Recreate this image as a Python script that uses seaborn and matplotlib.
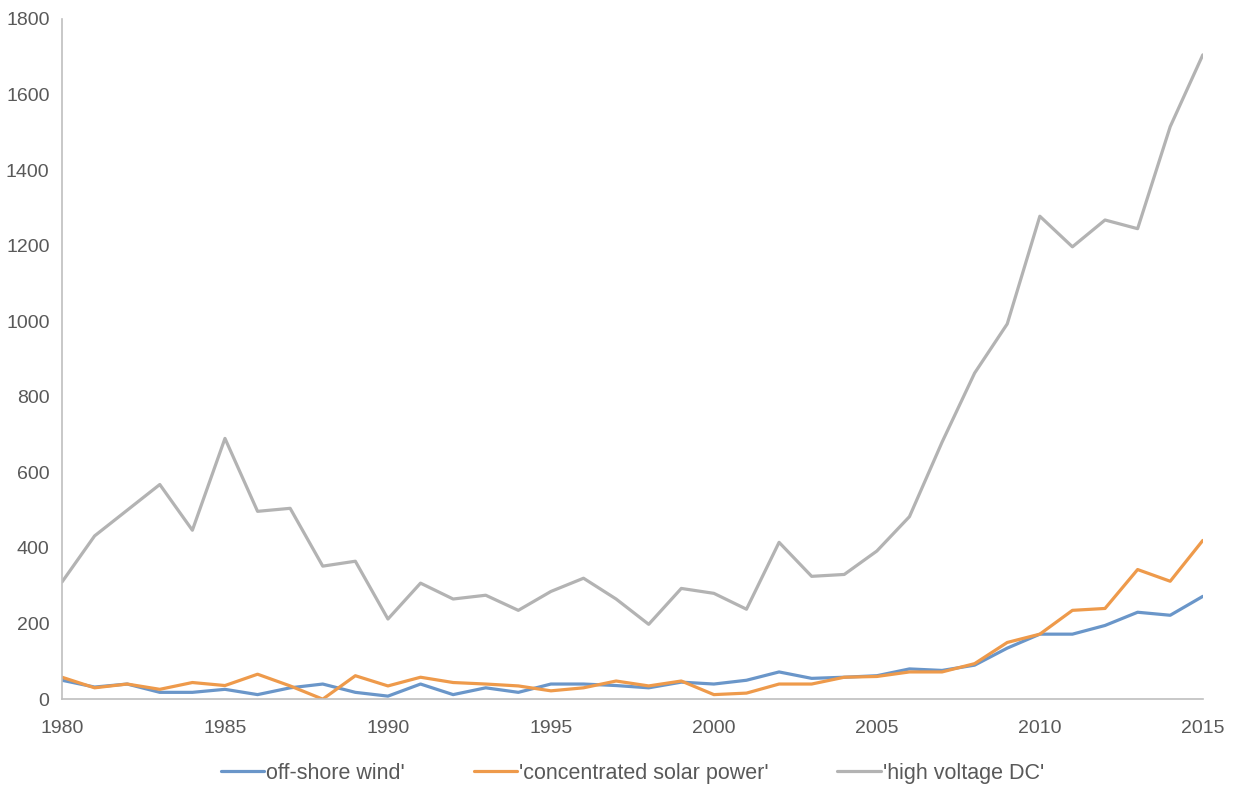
import numpy as np
import pandas as pd
import matplotlib
matplotlib.use("Agg")
import matplotlib.pyplot as plt
import seaborn as sns

years = list(range(1980, 2016))

offshore_wind = [50, 32, 40, 18, 18, 26, 12, 30, 40, 18,
                 8, 40, 12, 30, 18, 40, 40, 36, 30, 45,
                 40, 50, 72, 55, 58, 62, 80, 76, 90, 135,
                 172, 172, 195, 230, 222, 272]
concentrated_solar = [58, 30, 40, 26, 44, 36, 66, 35, 0, 62,
                      35, 58, 44, 40, 35, 22, 30, 48, 35, 48,
                      12, 16, 40, 40, 58, 60, 72, 72, 94, 150,
                      172, 235, 240, 343, 312, 420]
high_voltage_dc = [310, 432, 500, 568, 447, 690, 497, 505, 352, 365,
                   212, 307, 265, 275, 235, 285, 320, 265, 198, 293,
                   280, 238, 415, 325, 330, 392, 483, 680, 863, 993,
                   1278, 1197, 1268, 1245, 1515, 1705]

series_names = ["off-shore wind'", "'concentrated solar power'", "'high voltage DC'"]
colors = ["#6A96C9", "#EE9A4B", "#B3B3B3"]

# long-form table for seaborn
df = pd.DataFrame({
    "year": years * 3,
    "value": offshore_wind + concentrated_solar + high_voltage_dc,
    "series": [series_names[0]] * len(years) + [series_names[1]] * len(years) + [series_names[2]] * len(years),
})

sns.set_style("white")
plt.rcParams["font.family"] = ["Liberation Sans", "DejaVu Sans"]

fig = plt.figure(figsize=(12.4, 7.9), dpi=100)
ax = fig.add_axes([0.05, 0.115, 0.92, 0.861])

sns.lineplot(data=df, x="year", y="value", hue="series", palette=colors,
             hue_order=series_names, linewidth=2.3, ax=ax, legend=True)

ax.set_xlim(1980, 2015)
ax.set_ylim(0, 1800)
ax.set_xticks(range(1980, 2016, 5))
ax.set_yticks(range(0, 1801, 200))
ax.set_xlabel("")
ax.set_ylabel("")
ax.tick_params(axis="both", length=0, labelsize=14, labelcolor="#595959")
ax.tick_params(axis="x", pad=15)
ax.tick_params(axis="y", pad=9)

for side in ["top", "right"]:
    ax.spines[side].set_visible(False)
for side in ["left", "bottom"]:
    ax.spines[side].set_color("#BFBFBF")
    ax.spines[side].set_linewidth(1.2)

ax.legend(loc="upper center", bbox_to_anchor=(0.5, -0.065), ncol=3, frameon=False,
          fontsize=15.5, labelcolor="#595959", handlelength=2.0, handletextpad=0.1,
          columnspacing=3.2)

fig.savefig("out.png", dpi=100)
